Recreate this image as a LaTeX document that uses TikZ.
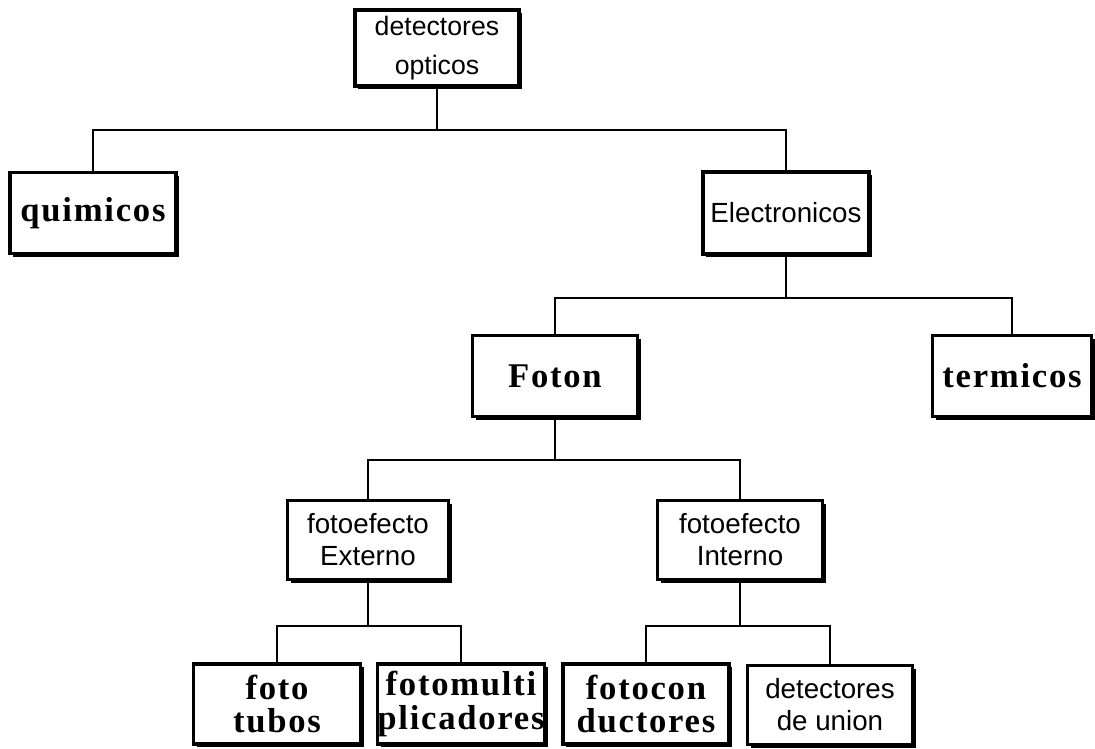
\documentclass[tikz,border=0pt]{standalone}
\usepackage{fontspec}
\setmainfont{Liberation Serif}
\setsansfont{Liberation Sans}
\newfontfamily\serifsp[LetterSpace=5]{Liberation Serif}
\usetikzlibrary{shadows}
\begin{document}
\begin{tikzpicture}[x=0.75pt,y=-0.75pt,
  box/.style={draw, line width=2.4pt, fill=white, inner sep=0pt, align=center,
    drop shadow={shadow xshift=2.6pt, shadow yshift=-2.6pt, fill=black, opacity=1}},
  sanslbl/.style={font=\sffamily\fontsize{20.8}{24}\selectfont},
  seriflbl/.style={font=\serifsp\bfseries\fontsize{26}{25}\selectfont},
  link/.style={line width=2.2pt}]
\useasboundingbox (0,0) rectangle (1095,749);
\fill[white] (0,0) rectangle (1095,749);

\node[box, minimum width=123pt, minimum height=57pt, font=\sffamily\fontsize{20}{29}\selectfont] (top) at (437,48) {detectores\\opticos};
\node[box, seriflbl, minimum width=124.5pt, minimum height=61pt] (quim) at (93,213) {quimicos};
\node[box, sanslbl, minimum width=124.5pt, minimum height=61.5pt] (elec) at (786,213) {Electronicos};
\node[box, seriflbl, minimum width=124pt, minimum height=61pt] (foton) at (555,376) {Foton};
\node[box, seriflbl, minimum width=119pt, minimum height=61pt] (term) at (1012,376) {termicos};
\node[box, sanslbl, minimum width=121pt, minimum height=59pt] (ext) at (368,540) {fotoefecto\\Externo};
\node[box, sanslbl, minimum width=124pt, minimum height=59pt] (int) at (740,540) {fotoefecto\\Interno};
\node[box, seriflbl, minimum width=125pt, minimum height=60pt] (tubos) at (277,704) {foto\\tubos};
\node[box, seriflbl, minimum width=124pt, minimum height=60pt] (multi) at (461,704) {fotomulti\\plicadores};
\node[box, seriflbl, minimum width=124.5pt, minimum height=60pt] (cond) at (646,704) {fotocon\\ductores};
\node[box, sanslbl, minimum width=124pt, minimum height=59pt] (union) at (830,705) {detectores\\de union};

\coordinate (b1) at (0,130);
\coordinate (b2) at (0,298);
\coordinate (b3) at (0,460);
\coordinate (b4) at (0,626);

\draw[link] (top.south) -- (top.south |- b1) -| (quim.north);
\draw[link] (top.south |- b1) -| (elec.north);
\draw[link] (elec.south) -- (elec.south |- b2) -| (foton.north);
\draw[link] (elec.south |- b2) -| (term.north);
\draw[link] (foton.south) -- (foton.south |- b3) -| (ext.north);
\draw[link] (foton.south |- b3) -| (int.north);
\draw[link] (ext.south) -- (ext.south |- b4) -| (tubos.north);
\draw[link] (ext.south |- b4) -| (multi.north);
\draw[link] (int.south) -- (int.south |- b4) -| (cond.north);
\draw[link] (int.south |- b4) -| (union.north);
\end{tikzpicture}
\end{document}
